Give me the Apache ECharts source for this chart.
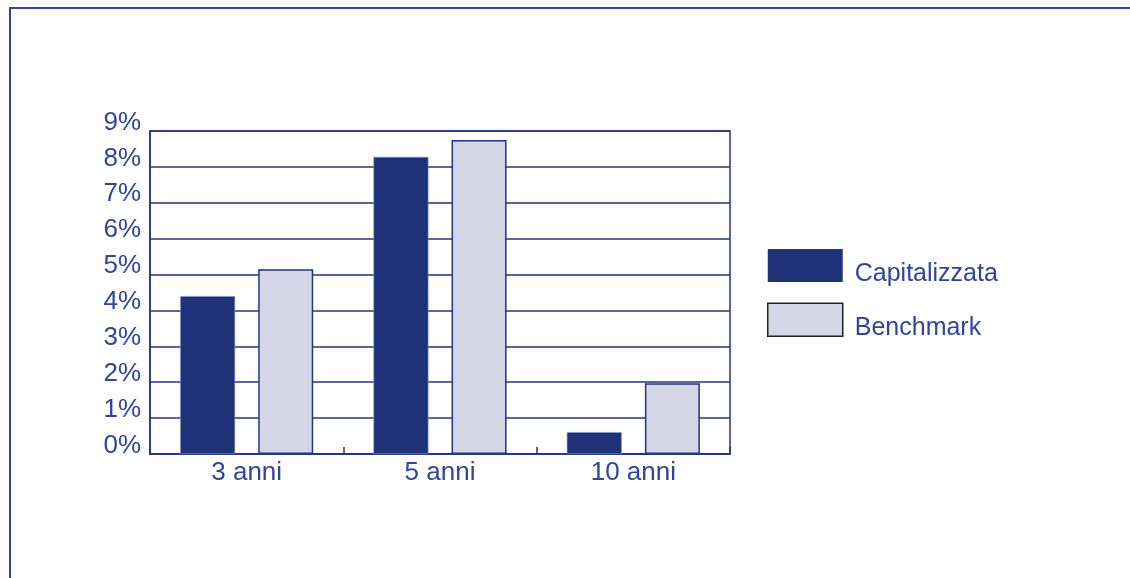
<!DOCTYPE html>
<html>
<head>
<meta charset="utf-8">
<script src="https://cdn.jsdelivr.net/npm/echarts@6/dist/echarts.min.js"></script>
<style>
  html, body { margin: 0; padding: 0; background: #fff; }
  #chart { width: 1130px; height: 578px; }
</style>
</head>
<body>
<div id="chart"></div>
<script>
// Rendimenti medi annui: gestione capitalizzata vs benchmark
const categories = ['3 anni', '5 anni', '10 anni'];
const capitalizzata = [4.4, 8.28, 0.61];
const benchmark = [5.15, 8.75, 1.97];
const yTicks = [0, 1, 2, 3, 4, 5, 6, 7, 8, 9];

const navy = '#1f3278';
const lilac = '#d3d6e4';
const textBlue = '#31449a';
const lineBlue = '#22357d';
const font = 'Liberation Sans, Arial, Helvetica, sans-serif';

const chart = echarts.init(document.getElementById('chart'), null, { renderer: 'canvas' });

chart.setOption({
  animation: false,
  backgroundColor: '#fff',
  grid: {
    left: 150, top: 131, width: 580, height: 323,
    show: true, borderColor: lineBlue, borderWidth: 1.5, backgroundColor: 'transparent'
  },
  legend: {
    orient: 'vertical',
    left: 767, top: 249, padding: 0,
    itemWidth: 75, itemHeight: 33, itemGap: 16,
    icon: 'rect',
    formatter: name => '{t|' + name + '}',
    textStyle: {
      color: textBlue, fontSize: 25, fontFamily: font,
      rich: { t: { color: textBlue, fontSize: 25, fontFamily: font, padding: [17, 0, 0, 7] } }
    },
    data: [
      { name: 'Capitalizzata', itemStyle: { color: navy, borderColor: navy, borderWidth: 0 } },
      { name: 'Benchmark', itemStyle: { color: lilac, borderColor: '#222', borderWidth: 1.5 } }
    ]
  },
  xAxis: {
    type: 'category',
    data: categories,
    axisLine: { show: true, lineStyle: { color: lineBlue, width: 1.5 } },
    axisTick: { show: true, inside: true, length: 7, lineStyle: { color: lineBlue, width: 1.5 } },
    axisLabel: { color: textBlue, fontSize: 26, fontFamily: font, margin: 6 }
  },
  yAxis: {
    type: 'value',
    min: 0, max: 9, interval: 1,
    axisLine: { show: true, lineStyle: { color: lineBlue, width: 1.5 } },
    axisTick: { show: false },
    splitLine: { show: true, lineStyle: { color: lineBlue, width: 1.5 } },
    axisLabel: {
      color: textBlue, fontSize: 26, fontFamily: font, margin: 9,
      formatter: v => yTicks.includes(v) ? '{t|' + v + '%}' : '',
      rich: { t: { color: textBlue, fontSize: 26, fontFamily: font, padding: [0, 0, 17, 0] } }
    }
  },
  series: [
    {
      name: 'Capitalizzata', type: 'bar', data: capitalizzata,
      barWidth: 55, barGap: '42%',
      itemStyle: { color: navy, borderColor: '#8f9cc8', borderWidth: 0.6 }
    },
    {
      name: 'Benchmark', type: 'bar', data: benchmark,
      barWidth: 55,
      itemStyle: { color: lilac, borderColor: lineBlue, borderWidth: 1.5 }
    }
  ],
  graphic: [
    {
      type: 'polyline',
      shape: { points: [[10, 578], [10, 8], [1130, 8]] },
      style: { stroke: '#34488f', lineWidth: 2, fill: null },
      silent: true
    }
  ]
});
</script>
</body>
</html>
